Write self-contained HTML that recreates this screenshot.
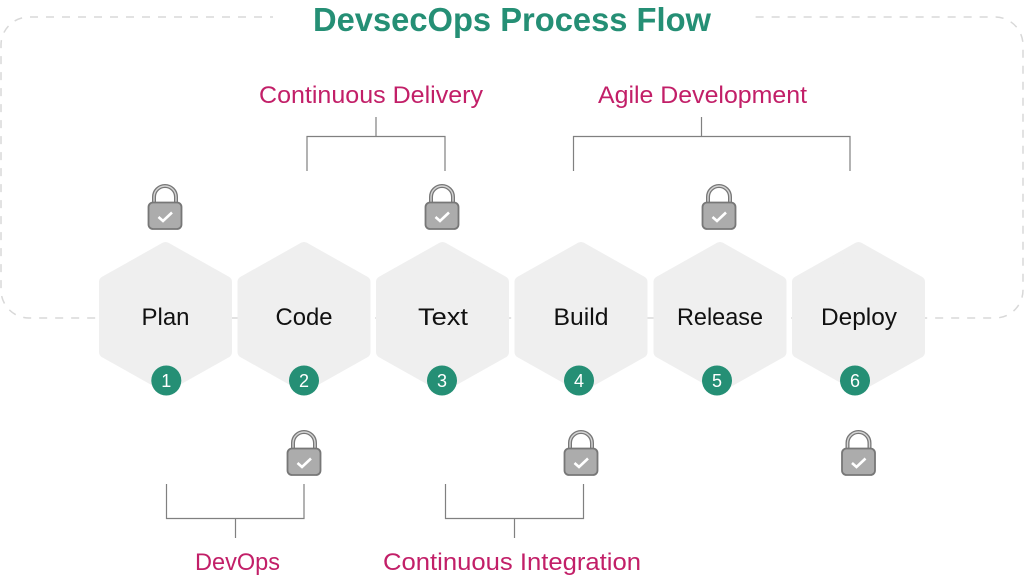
<!DOCTYPE html>
<html>
<head>
<meta charset="utf-8">
<style>
html,body{margin:0;padding:0;background:#fff;width:1024px;height:576px;overflow:hidden}
svg{display:block}
text{font-family:"Liberation Sans",sans-serif}
.n{font-size:24px;fill:#111;text-anchor:middle}
.p{font-size:24px;fill:#c21f68}
.d{font-size:18px;fill:#fff;text-anchor:middle}
.br{fill:none;stroke:#808080;stroke-width:1.2}
</style>
</head>
<body>
<svg width="1024" height="576" viewBox="0 0 1024 576" xmlns="http://www.w3.org/2000/svg">
<defs>
<g id="hex"><path d="M0 -69 L60.500 -35 L60.500 35 L0 69 L-60.500 35 L-60.500 -35 Z" fill="#efefef" stroke="#efefef" stroke-width="12" stroke-linejoin="round"/></g>
<g id="lock">
<path d="M-11 -5 V-12 A11 11 0 0 1 11 -12 V-5" fill="none" stroke="#777" stroke-width="4"/>
<path d="M-11 -5 V-12 A11 11 0 0 1 11 -12 V-5" fill="none" stroke="#d4d4d4" stroke-width="1.400"/>
<rect x="-16.500" y="-6.500" width="33" height="26.500" rx="4.500" fill="#acacac" stroke="#777" stroke-width="1.800"/>
<path d="M-6.500 8 L-2 12 L7 3.500" fill="none" stroke="#fff" stroke-width="2.600"/>
</g>
</defs>

<path d="M273 17 H29 A28 28 0 0 0 1 45 V290 A28 28 0 0 0 29 318 H995 A28 28 0 0 0 1023 290 V45 A28 28 0 0 0 995 17 H751" fill="none" stroke="#d8d8d8" stroke-width="1.500" stroke-dasharray="8 8" stroke-dashoffset="5"/>

<text x="313" y="31" font-size="33" font-weight="bold" fill="#258f75" textLength="398" lengthAdjust="spacingAndGlyphs">DevsecOps Process Flow</text>

<text class="p" x="259" y="103" textLength="224" lengthAdjust="spacingAndGlyphs">Continuous Delivery</text>
<text class="p" x="598" y="103" textLength="209" lengthAdjust="spacingAndGlyphs">Agile Development</text>
<text class="p" x="195" y="570" textLength="85" lengthAdjust="spacingAndGlyphs">DevOps</text>
<text class="p" x="383" y="570" textLength="258" lengthAdjust="spacingAndGlyphs">Continuous Integration</text>

<path class="br" d="M376 117 V136 M307 171 V136.500 H445 V171"/>
<path class="br" d="M701.500 117 V136 M573.500 171 V136.500 H850 V171"/>
<path class="br" d="M166.500 484 V518.500 H304 V484 M235.500 518 V538"/>
<path class="br" d="M445.500 484 V518.500 H583.500 V484 M514.500 518 V538"/>

<use href="#hex" x="165.500" y="317"/>
<use href="#hex" x="304" y="317"/>
<use href="#hex" x="442.500" y="317"/>
<use href="#hex" x="581" y="317"/>
<use href="#hex" x="720" y="317"/>
<use href="#hex" x="858.500" y="317"/>

<text class="n" x="165.500" y="325" textLength="48" lengthAdjust="spacingAndGlyphs">Plan</text>
<text class="n" x="304" y="325" textLength="57" lengthAdjust="spacingAndGlyphs">Code</text>
<text class="n" x="443" y="325" textLength="50" lengthAdjust="spacingAndGlyphs">Text</text>
<text class="n" x="581" y="325" textLength="55" lengthAdjust="spacingAndGlyphs">Build</text>
<text class="n" x="720" y="325" textLength="86" lengthAdjust="spacingAndGlyphs">Release</text>
<text class="n" x="859" y="325" textLength="76" lengthAdjust="spacingAndGlyphs">Deploy</text>

<g fill="#258f75">
<circle cx="166.300" cy="380.500" r="15"/>
<circle cx="304" cy="380.500" r="15"/>
<circle cx="442" cy="380.500" r="15"/>
<circle cx="579" cy="380.500" r="15"/>
<circle cx="717" cy="380.500" r="15"/>
<circle cx="855" cy="380.500" r="15"/>
</g>
<text class="d" x="166.300" y="387">1</text>
<text class="d" x="304" y="387">2</text>
<text class="d" x="442" y="387">3</text>
<text class="d" x="579" y="387">4</text>
<text class="d" x="717" y="387">5</text>
<text class="d" x="855" y="387">6</text>

<use href="#lock" x="165" y="209"/>
<use href="#lock" x="442" y="209"/>
<use href="#lock" x="719" y="209"/>
<use href="#lock" x="304" y="455"/>
<use href="#lock" x="581" y="455"/>
<use href="#lock" x="858.500" y="455"/>
</svg>
</body>
</html>
